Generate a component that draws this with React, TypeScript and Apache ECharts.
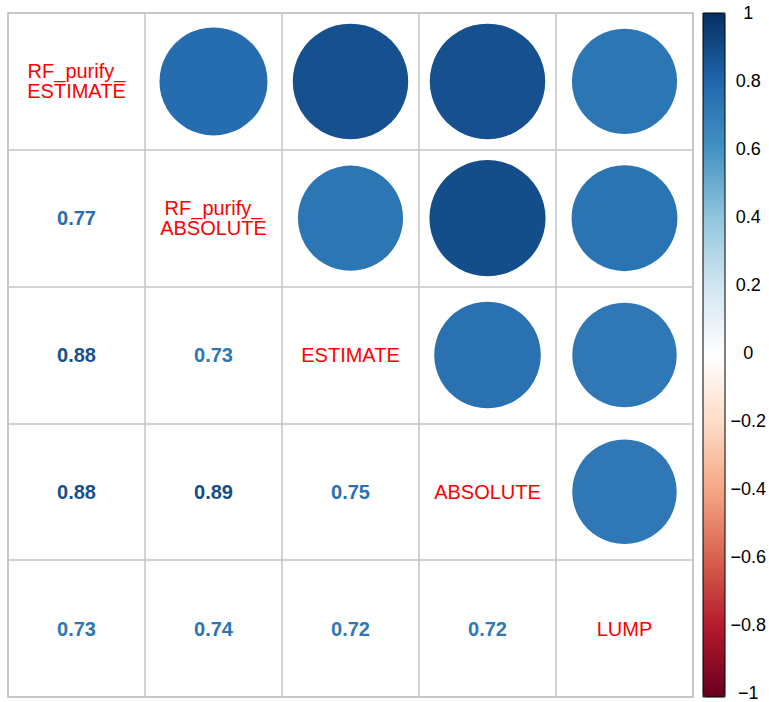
import React, { useEffect, useRef } from "react";
import * as echarts from "echarts";

const variables = ["RF_purify_ESTIMATE", "RF_purify_ABSOLUTE", "ESTIMATE", "ABSOLUTE", "LUMP"];
const diagonalLabels = ["RF_purify_\nESTIMATE", "RF_purify_\nABSOLUTE", "ESTIMATE", "ABSOLUTE", "LUMP"];
// lower triangle of the correlation matrix, row by row (rows 2..5)
const corrRow2 = [0.77];
const corrRow3 = [0.88, 0.73];
const corrRow4 = [0.88, 0.89, 0.75];
const corrRow5 = [0.73, 0.74, 0.72, 0.72];
const palette = [
  "#67001F", "#B2182B", "#D6604D", "#F4A582", "#FDDBC7", "#FFFFFF",
  "#D1E5F0", "#92C5DE", "#4393C3", "#2166AC", "#053061",
];

const GRID_LEFT = 8;
const GRID_TOP = 13;
const GRID_W = 685;
const GRID_H = 684;
const BAR_LEFT = 703;
const BAR_W = 22;
const GRID_LINE = { color: "#c4c4c4", width: 1.5 };

export default function App() {
  const ref = useRef<HTMLDivElement>(null);
  useEffect(() => {
    if (!ref.current) return;
    const chart = echarts.init(ref.current, undefined, { renderer: "svg" });
    const n = variables.length;
    const lower = [corrRow2, corrRow3, corrRow4, corrRow5];
    const M: number[][] = [];
    for (let i = 0; i < n; i++) {
      M.push([]);
      for (let j = 0; j < n; j++) M[i].push(i === j ? 1 : 0);
    }
    lower.forEach((row, k) => {
      const i = k + 1;
      row.forEach((v, j) => {
        M[i][j] = v;
        M[j][i] = v;
      });
    });
    const colorOf = (v: number) => echarts.color.lerp((v + 1) / 2, palette) as string;
    const cell = Math.min(GRID_W, GRID_H) / n;

    const circles: any[] = [];
    const numbers: any[] = [];
    const diag: any[] = [];
    for (let i = 0; i < n; i++) {
      for (let j = 0; j < n; j++) {
        if (i < j) circles.push([j, i, M[i][j]]);
        else if (i > j)
          numbers.push({
            value: [j, i, M[i][j]],
            label: { color: colorOf(M[i][j]) },
          });
        else diag.push({ value: [j, i], label: { formatter: diagonalLabels[i] } });
      }
    }

    const font = "'Liberation Sans', Arial, Helvetica, sans-serif";
    chart.setOption({
      animation: false,
      backgroundColor: "#ffffff",
      grid: [
        {
          left: GRID_LEFT, top: GRID_TOP, width: GRID_W, height: GRID_H,
          show: true, borderColor: GRID_LINE.color, borderWidth: GRID_LINE.width,
          backgroundColor: "transparent",
        },
        { left: BAR_LEFT, top: GRID_TOP, width: BAR_W, height: GRID_H },
      ],
      xAxis: [
        {
          gridIndex: 0, type: "category", data: variables, position: "top",
          axisLine: { show: false }, axisTick: { show: false }, axisLabel: { show: false },
          splitLine: { show: true, interval: 0, lineStyle: GRID_LINE },
        },
        { gridIndex: 1, type: "value", show: false, min: 0, max: 1 },
      ],
      yAxis: [
        {
          gridIndex: 0, type: "category", data: variables, inverse: true,
          axisLine: { show: false }, axisTick: { show: false }, axisLabel: { show: false },
          splitLine: { show: true, interval: 0, lineStyle: GRID_LINE },
        },
        {
          gridIndex: 1, type: "value", position: "right", min: -1, max: 1, interval: 0.2,
          axisLine: { show: false }, splitLine: { show: false },
          axisTick: { show: true, inside: false, length: 4, lineStyle: { color: "#000" } },
          axisLabel: {
            show: true, margin: 26, align: "center", color: "#000", fontSize: 18, fontFamily: font,
            formatter: (v: number) => {
              const r = Math.round(v * 10) / 10;
              return (r < 0 ? "\u2212" : "") + String(Math.abs(r));
            },
          },
        },
      ],
      visualMap: {
        type: "continuous", min: -1, max: 1, seriesIndex: 0, calculable: false, hoverLink: false,
        inRange: { color: palette }, left: BAR_LEFT, top: GRID_TOP, itemWidth: BAR_W, itemHeight: GRID_H,
        padding: 0, text: null, showLabel: false, orient: "vertical",
      },
      graphic: [
        {
          type: "rect", z: 100, silent: true,
          shape: { x: BAR_LEFT, y: GRID_TOP, width: BAR_W, height: GRID_H },
          style: { fill: "none", stroke: "#000", lineWidth: 1 },
        },
      ],
      series: [
        {
          type: "scatter", xAxisIndex: 0, yAxisIndex: 0, data: circles, symbol: "circle",
          symbolSize: (v: number[]) => 0.9 * cell * Math.sqrt(Math.abs(v[2])),
          itemStyle: { opacity: 1 }, silent: true,
        },
        {
          type: "scatter", xAxisIndex: 0, yAxisIndex: 0, data: numbers, symbolSize: 1,
          itemStyle: { color: "rgba(0,0,0,0)", opacity: 1 }, silent: true,
          label: {
            show: true, position: "inside", fontSize: 20, fontWeight: "bold", fontFamily: font,
            formatter: (p: any) => p.value[2].toFixed(2),
          },
        },
        {
          type: "scatter", xAxisIndex: 0, yAxisIndex: 0, data: diag, symbolSize: 1,
          itemStyle: { color: "rgba(0,0,0,0)", opacity: 1 }, silent: true,
          label: {
            show: true, position: "inside", fontSize: 20, lineHeight: 20, color: "#ff0000",
            fontFamily: font, align: "center",
          },
        },
      ],
    });
    return () => chart.dispose();
  }, []);
  return (
    <div
      ref={ref}
      style={{ position: "fixed", left: 0, top: 0, width: 769, height: 702, background: "#fff" }}
    />
  );
}
